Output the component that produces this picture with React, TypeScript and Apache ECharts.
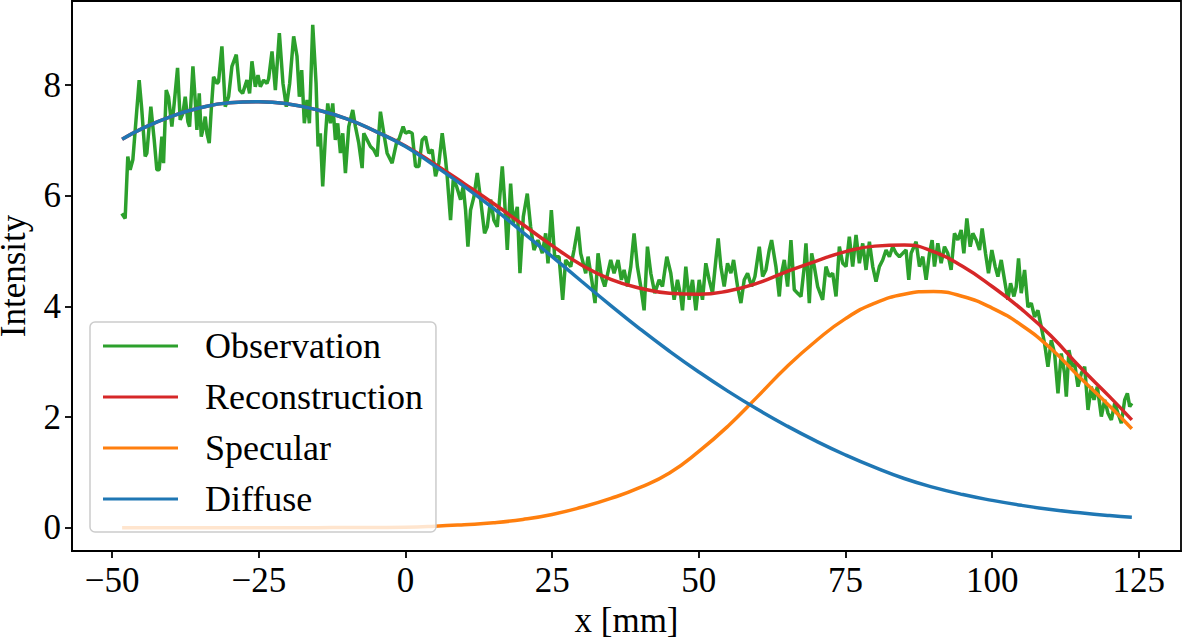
import React, { useEffect, useRef } from "react";
import * as echarts from "echarts";

const FONT = "'Liberation Serif', 'Times New Roman', Times, serif";

const xTicks = [-50, -25, 0, 25, 50, 75, 100, 125];
const yTicks = [0, 2, 4, 6, 8];
const seriesNames = ["Observation", "Reconstruction", "Specular", "Diffuse"];
const seriesColors = ["#2ca02c", "#d62728", "#ff7f0e", "#1f77b4"];

const obsX = [
  -48.35, -47.78, -47.33, -46.93, -46.47, -45.39, -44.94, -44.37, -44.08, -43.4, -42.83, -42.38, -41.98, -41.52, -41.24,
  -40.78, -40.39, -39.82, -39.42, -38.85, -38.4, -37.94, -37.54, -37.09, -36.8, -36.23, -35.84, -35.55, -35.15, -34.81,
  -34.41, -34.13, -33.84, -33.45, -33.11, -32.71, -32.14, -31.86, -31.29, -30.72, -30.15, -29.58, -28.84, -28.27, -27.76,
  -27.02, -26.57, -26.17, -25.6, -25.14, -24.74, -24.18, -23.61, -23.32, -22.75, -22.18, -21.5, -20.88, -20.31, -19.74,
  -19.06, -18.49, -18.09, -17.69, -17.24, -16.78, -16.38, -15.81, -15.24, -14.9, -14.51, -14.11, -13.65, -13.25, -12.8,
  -12.4, -11.95, -11.55, -11.09, -10.69, -10.24, -9.67, -8.99, -8.53, -7.96, -7.39, -7.11, -6.54, -5.97, -5.4,
  -4.83, -4.27, -3.7, -3.13, -2.28, -1.42,
  -1.14, -0.4, 0.0, 0.57, 1.14, 1.71, 2.28, 2.84, 3.41, 3.98, 4.55, 5.12, 5.69, 6.26, 6.83,
  7.11, 7.68, 8.14, 8.7, 9.39, 9.84, 10.24, 10.64, 11.09, 11.66, 12.23, 12.8, 13.48, 13.94, 14.51,
  15.07, 15.64, 15.93, 16.5, 16.89, 17.35, 17.92, 18.37, 19.06, 19.51, 20.08, 20.76, 21.33, 21.9, 22.58,
  23.32, 23.89, 24.29, 24.86, 25.43, 26.17, 26.79, 27.3, 28.16, 28.73, 29.41, 29.86, 30.72, 31.12, 31.74,
  32.31, 32.82, 33.39, 33.96, 34.98, 35.55, 36.23, 36.8, 37.26, 37.83, 38.4, 38.96, 39.53, 40.1, 40.67,
  41.24, 41.81, 42.49, 43.23, 43.8, 44.54, 45.22, 45.79, 46.36, 46.93, 47.21, 47.78, 48.35, 48.92, 49.49,
  50.06, 50.62, 51.19, 51.76, 52.33, 52.9, 53.3, 53.75, 54.32, 54.89, 55.46, 55.92, 56.6, 57.17, 57.74,
  58.31, 58.99, 59.56, 60.3, 60.87, 61.43, 62.0, 62.4, 63.14, 63.71,
  63.99, 64.56, 65.13, 65.7, 66.27, 66.84, 67.41, 67.97, 68.26, 68.83, 69.23, 69.68, 70.25, 71.1, 71.67,
  72.24, 72.81, 73.38, 73.95, 74.52, 75.09, 75.65, 76.22, 76.79, 77.36, 77.93, 78.5, 79.07, 79.64, 80.2,
  80.77, 81.34, 81.91, 82.48, 83.05, 83.62, 84.19, 84.76, 85.32, 85.78, 86.18, 87.03, 87.6, 88.17, 88.74,
  89.31, 89.76, 90.16, 90.73, 91.3, 91.87, 92.43, 93.0, 93.57, 94.14, 94.71, 95.17, 95.68, 96.25, 96.7,
  97.27, 97.84, 98.29, 98.86, 99.37, 99.94, 100.51, 100.97, 101.54, 102.1, 102.67, 103.13, 103.7, 104.1, 104.49,
  104.95, 105.52, 106.09, 106.66, 107.22, 107.79, 108.36, 108.93, 109.5, 110.07, 110.64, 111.21, 111.77, 112.34, 112.63,
  113.08, 113.65, 114.05, 114.62, 115.19, 115.76, 116.33, 116.89, 117.35, 117.92, 118.6, 119.17, 119.74, 120.31, 120.88,
  121.44, 122.01, 122.58, 123.04, 123.44, 123.8,
];

const obsY = [
  5.68, 5.59, 6.71, 6.47, 6.65, 8.09, 7.55, 6.71, 6.77, 7.61, 7.01, 6.47, 6.47, 7.07, 6.59,
  7.91, 7.79, 7.25, 7.67, 8.31, 7.37, 7.49, 7.79, 7.34, 7.25, 8.34, 7.73, 7.19, 7.85, 7.07,
  7.25, 7.43, 7.13, 6.95, 7.55, 8.15, 8.03, 8.06, 8.7, 7.61, 7.79, 8.34, 8.55, 7.91, 7.85,
  8.09, 7.85, 8.43, 7.97, 8.18, 7.97, 8.09, 8.03, 8.12, 8.61, 7.91, 8.94, 8.03, 7.61, 8.03,
  8.88, 8.52, 7.79, 8.27, 7.31, 7.73, 7.31, 9.09, 8.03, 6.89, 7.13, 6.17, 7.07, 7.67, 7.31,
  7.67, 7.01, 7.31, 6.77, 7.13, 6.41, 7.25, 7.55, 7.25, 6.95, 6.5, 7.13, 7.01, 6.89, 6.83,
  6.71, 7.52, 7.13, 6.77, 6.59, 7.01,
  7.01, 7.25, 7.13, 7.16, 7.13, 6.53, 6.53, 7.01, 7.07, 6.77, 6.83, 6.35, 6.59, 7.13, 6.65,
  6.35, 5.56, 6.29, 6.17, 5.93, 6.17, 5.74, 5.08, 5.74, 5.98, 6.41, 5.93, 5.32, 5.44, 5.93,
  5.56, 5.44, 5.8, 6.53, 5.93, 5.02, 6.22, 5.5, 5.8, 4.6, 5.62, 6.04, 5.44, 5.02, 5.2,
  4.96, 5.32, 4.78, 5.74, 4.9, 4.9, 4.12, 4.84, 4.72, 5.02, 5.44, 4.96, 4.6, 4.9, 4.48,
  4.06, 4.96, 4.54, 4.36, 4.84, 4.6, 4.84, 4.48, 4.66, 4.36, 4.72, 5.32, 4.72, 4.36, 3.93,
  5.08, 4.6, 4.24, 4.48, 4.36, 4.9, 4.6, 4.12, 4.48, 4.18, 3.93, 4.72, 4.12, 4.48, 3.93,
  4.48, 4.12, 4.78, 4.48, 4.24, 4.84, 5.23, 4.72, 4.36, 4.78, 4.6, 4.84, 4.36, 4.06, 4.48,
  4.6, 4.36, 4.54, 5.08, 4.54, 4.66, 5.02, 5.2, 4.72, 4.18,
  4.54, 4.84, 4.36, 5.2, 4.3, 4.24, 4.18, 4.72, 5.14, 4.06, 4.96, 4.72, 4.36, 4.12, 4.72,
  4.54, 4.6, 4.18, 5.08, 4.78, 4.72, 5.26, 4.72, 5.29, 4.78, 5.14, 4.66, 5.17, 4.72, 4.45,
  4.72, 4.84, 5.02, 4.9, 5.08, 4.96, 4.9, 4.96, 5.02, 4.48, 4.96, 5.17, 4.72, 4.9, 4.48,
  4.96, 5.2, 4.72, 5.14, 4.78, 5.08, 4.96, 4.66, 5.32, 5.2, 5.38, 4.96, 5.59, 5.08, 5.32,
  5.2, 5.02, 5.41, 4.96, 4.6, 5.02, 4.72, 4.54, 4.84, 4.48, 4.12, 4.42, 4.18, 4.36, 4.87,
  4.24, 4.66, 3.99, 4.06, 3.81, 3.93, 3.63, 3.33, 2.91, 3.39, 3.15, 2.43, 3.15, 2.79, 2.37,
  3.21, 2.91, 2.97, 2.55, 2.79, 2.91, 2.13, 2.55, 2.31, 2.55, 2.01, 2.31, 2.07, 1.95, 2.25,
  2.07, 1.89, 2.31, 2.43, 2.19, 2.25,
];

// Smooth curves, read at regular x positions
const curveX = [-48.3, -45, -40, -35, -30, -25, -20, -15, -10, -5, 0, 5, 10, 15, 20, 25, 30, 35, 40, 45, 50, 55, 60, 65, 70, 75, 80, 85, 90, 95, 100, 105, 110, 115, 120, 123.8];
const reconY = [7.02, 7.21, 7.43, 7.59, 7.68, 7.7, 7.66, 7.55, 7.39, 7.16, 6.9, 6.57, 6.22, 5.86, 5.48, 5.1, 4.75, 4.49, 4.33, 4.24, 4.22, 4.28, 4.42, 4.63, 4.82, 4.99, 5.09, 5.11, 4.99, 4.72, 4.36, 3.95, 3.47, 2.9, 2.37, 1.95];
const specY = [0.0, 0.0, 0.0, 0.0, 0.0, 0.0, 0.001, 0.002, 0.004, 0.006, 0.01, 0.027, 0.055, 0.09, 0.15, 0.24, 0.37, 0.53, 0.73, 0.99, 1.38, 1.84, 2.37, 2.91, 3.38, 3.78, 4.06, 4.22, 4.27, 4.18, 3.97, 3.66, 3.24, 2.71, 2.2, 1.79];
const diffY = [7.02, 7.21, 7.43, 7.59, 7.68, 7.7, 7.66, 7.55, 7.39, 7.16, 6.89, 6.54, 6.17, 5.77, 5.34, 4.9, 4.455, 4.015, 3.59, 3.19, 2.815, 2.465, 2.14, 1.84, 1.565, 1.315, 1.09, 0.89, 0.73, 0.6, 0.495, 0.405, 0.33, 0.27, 0.22, 0.19];

const zip = (xs: number[], ys: number[]) => xs.map((x, i) => [x, ys[i]]);
const fmt = (v: number) => (v < 0 ? "\u2212" + Math.abs(v) : String(v));

export default function App() {
  const ref = useRef<HTMLDivElement>(null);
  useEffect(() => {
    if (!ref.current) return;
    const chart = echarts.init(ref.current, null, { renderer: "svg" });
    const textStyle = { fontFamily: FONT, fontSize: 35, color: "#000" };
    const lineSeries = (name: string, color: string, data: number[][], smooth: boolean | number) => ({
      name,
      type: "line",
      data,
      showSymbol: false,
      symbol: "none",
      smooth,
      color,
      lineStyle: { color, width: 3.5 },
      emphasis: { disabled: true },
      clip: false,
    });
    chart.setOption({
      animation: false,
      backgroundColor: "#fff",
      textStyle: { fontFamily: FONT },
      grid: {
        left: 72,
        top: 1,
        width: 1109,
        height: 550,
        containLabel: false,
        outerBoundsMode: "none",
        show: true,
        borderColor: "#000",
        borderWidth: 1.8,
        backgroundColor: "transparent",
      },
      xAxis: {
        type: "value",
        min: -56.84,
        max: 132.18,
        name: "x [mm]",
        nameLocation: "middle",
        nameGap: 47,
        nameTextStyle: { ...textStyle, lineHeight: 35 },
        axisLine: { show: true, onZero: false, lineStyle: { color: "#000", width: 1.8 } },
        axisTick: { show: true, length: 7, lineStyle: { color: "#000", width: 1.8 }, customValues: xTicks },
        axisLabel: { ...textStyle, margin: 12, customValues: xTicks, formatter: fmt },
        splitLine: { show: false },
      },
      yAxis: {
        type: "value",
        min: -0.42,
        max: 9.52,
        name: "Intensity",
        nameLocation: "middle",
        nameGap: 43,
        nameTextStyle: { ...textStyle, lineHeight: 32 },
        axisLine: { show: true, onZero: false, lineStyle: { color: "#000", width: 1.8 } },
        axisTick: { show: true, length: 7, lineStyle: { color: "#000", width: 1.8 }, customValues: yTicks },
        axisLabel: { ...textStyle, margin: 11, customValues: yTicks, formatter: fmt },
        splitLine: { show: false },
      },
      legend: {
        data: seriesNames,
        orient: "vertical",
        left: 90,
        top: 322,
        icon: "rect",
        itemWidth: 75,
        itemHeight: 3,
        itemGap: 11,
        padding: [4, 13, 13, 13],
        backgroundColor: "rgba(255,255,255,0.8)",
        borderColor: "#cccccc",
        borderWidth: 1.5,
        borderRadius: 5,
        textStyle: { ...textStyle, fontSize: 36, lineHeight: 40, padding: [0, 0, 0, 22] },
        selectedMode: false,
      },
      series: [
        lineSeries(seriesNames[0], seriesColors[0], zip(obsX, obsY), false),
        lineSeries(seriesNames[1], seriesColors[1], zip(curveX, reconY), 0.5),
        lineSeries(seriesNames[2], seriesColors[2], zip(curveX, specY), 0.5),
        lineSeries(seriesNames[3], seriesColors[3], zip(curveX, diffY), 0.5),
      ],
    });
    return () => chart.dispose();
  }, []);
  return (
    <div
      ref={ref}
      style={{ position: "fixed", left: 0, top: 0, width: 1182, height: 638, background: "#fff" }}
    />
  );
}
